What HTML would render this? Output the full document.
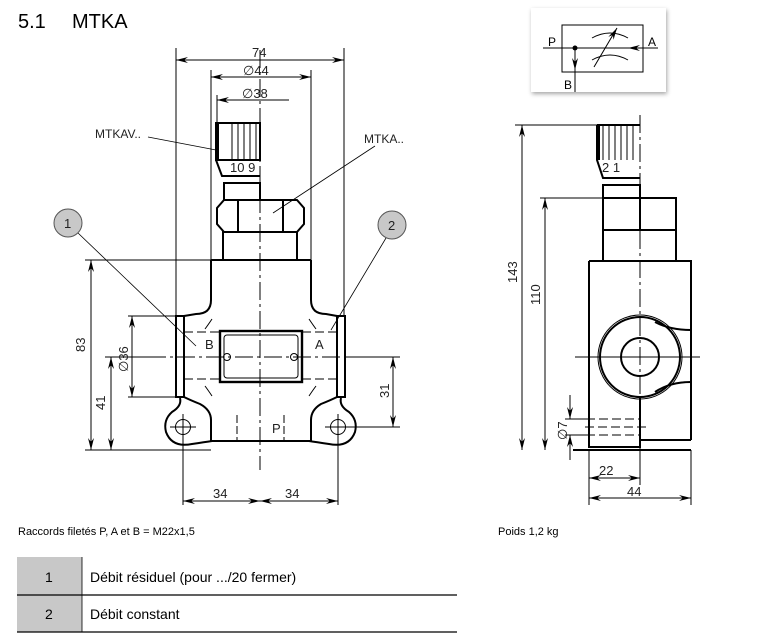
<!DOCTYPE html>
<html><head><meta charset="utf-8"><style>
body{margin:0;background:#fff;}
svg{display:block;font-family:"Liberation Sans",sans-serif;}
</style></head><body>
<svg width="757" height="641" viewBox="0 0 757 641" xmlns="http://www.w3.org/2000/svg">
<defs>
<marker id="a" viewBox="0 0 12 6" refX="12" refY="3" markerWidth="12" markerHeight="6" orient="auto-start-reverse" markerUnits="userSpaceOnUse"><path d="M0,0 L12,3 L0,6 L4,3z" fill="#000"/></marker>
<filter id="sh" x="-10%" y="-10%" width="130%" height="130%"><feDropShadow dx="1" dy="2" stdDeviation="2" flood-opacity="0.35"/></filter>
</defs>
<text x="18" y="28" font-size="20">5.1</text><text x="72" y="28" font-size="20">MTKA</text>

<!-- symbol -->
<rect x="531" y="8" width="135" height="84" fill="#fff" filter="url(#sh)"/>
<g stroke="#000" fill="none" stroke-width="1">
<rect x="562" y="25" width="81" height="47"/>
<line x1="543" y1="48" x2="658" y2="48"/>
<line x1="575" y1="48" x2="575" y2="92"/>
<path d="M592 38 Q610 28 628 38 M592 60 Q610 50 628 60"/>
<line x1="594" y1="67" x2="617" y2="28" marker-end="url(#a)"/>
<line x1="645" y1="48" x2="628" y2="48" marker-end="url(#a)"/>
<line x1="575" y1="54" x2="575" y2="70" marker-end="url(#a)"/>
</g>
<circle cx="575" cy="48" r="2.5"/>
<text x="548" y="46" font-size="12">P</text><text x="648" y="46" font-size="12">A</text><text x="564" y="89" font-size="12">B</text>

<!-- FRONT VIEW -->
<g stroke="#000" fill="none" stroke-width="2">
<rect x="216" y="123" width="44" height="37"/>
<path d="M216 160 L222 176 L260 176"/>
<rect x="224" y="183" width="36" height="17"/>
<path d="M224 200 L297 200 L304 208 L304 224 L297 232 L224 232 L217 224 L217 208 Z"/>
<line x1="238" y1="200" x2="238" y2="232"/><line x1="283" y1="200" x2="283" y2="232"/>
<rect x="223" y="232" width="74" height="28"/>
<path d="M211 260 L211 300 Q211 314 196 314 L184 316 L184 397"/>
<path d="M311 260 L311 300 Q311 314 326 314 L337 316 L337 397"/>
<line x1="211" y1="260" x2="311" y2="260"/>
<path d="M184 397 Q190 400 200 404 Q211 410 211 420 V441 H311 V420 Q311 410 321 404 Q331 400 337 397"/>
<path d="M180 398 Q182 406 172 412 Q163 420 166 432 Q172 448 192 444 Q205 442 212 441"/>
<path d="M341 398 Q339 406 349 412 Q358 420 355 432 Q349 448 329 444 Q316 442 309 441"/>
<rect x="176" y="316" width="8" height="81"/>
<rect x="337" y="316" width="8" height="81"/>
<rect x="220" y="331" width="82" height="51" stroke-width="2.4"/>
<rect x="224" y="335" width="74" height="43" rx="3" stroke-width="1"/>
<line x1="217" y1="123" x2="217" y2="160" stroke-width="4"/>
</g>
<g stroke="#000" fill="none" stroke-width="1">
<path d="M232 123 V160 M238 123 V160 M244 123 V160 M250 123 V160 M256 123 V160"/>
<circle cx="227" cy="357" r="3.5"/><circle cx="294" cy="357" r="3.5"/>
<circle cx="183" cy="427" r="7.5"/><circle cx="338" cy="427" r="7.5"/>
<path d="M212 319 Q208 325 205 329 M309 319 Q313 325 316 329 M205 386 Q208 390 212 396 M316 386 Q313 390 309 396"/>
<path d="M184 332 H220 M184 379 H220 M302 332 H337 M302 379 H337" stroke-dasharray="9 4"/>
<path d="M237 415 V441 M284 415 V441" stroke-dasharray="8 3"/>
<path d="M260 50 V470" stroke-dasharray="18 4 3 4"/>
<path d="M148 357 H345" stroke-dasharray="18 4 3 4"/>
<path d="M170 427 H196 M325 427 H400 M183 414 V505 M338 414 V505"/>
<path d="M176 48 V316 M344 48 V316 M211 70 V260 M311 70 V260 M217 95 V123"/>
<line x1="176" y1="60" x2="344" y2="60" marker-start="url(#a)" marker-end="url(#a)"/>
<line x1="211" y1="77" x2="311" y2="77" marker-start="url(#a)" marker-end="url(#a)"/>
<line x1="217" y1="100" x2="289" y2="100" marker-start="url(#a)"/>
<path d="M85 260 H211 M85 450 H211 M128 316 H176 M128 397 H176 M105 357 H148 M345 357 H400"/>
<line x1="91" y1="260" x2="91" y2="450" marker-start="url(#a)" marker-end="url(#a)"/>
<line x1="132" y1="316" x2="132" y2="397" marker-start="url(#a)" marker-end="url(#a)"/>
<line x1="111" y1="357" x2="111" y2="450" marker-start="url(#a)" marker-end="url(#a)"/>
<line x1="393" y1="357" x2="393" y2="427" marker-start="url(#a)" marker-end="url(#a)"/>
<line x1="183" y1="501" x2="260" y2="501" marker-start="url(#a)" marker-end="url(#a)"/>
<line x1="260" y1="501" x2="338" y2="501" marker-start="url(#a)" marker-end="url(#a)"/>
<path d="M148 137 L216 150 M375 146 L273 213 M78 233 L196 346 M386 238 L331 330" stroke-width="0.8"/>
</g>
<circle cx="68" cy="223" r="14" fill="#c8c8c8" stroke="#555"/>
<circle cx="392" cy="225" r="14" fill="#c8c8c8" stroke="#555"/>
<g font-size="13" fill="#222">
<text x="64" y="228">1</text><text x="388" y="230">2</text>
<text x="252" y="57">74</text><text x="243" y="75">∅44</text><text x="242" y="98">∅38</text>
<text x="95" y="138" font-size="12">MTKAV..</text><text x="364" y="143" font-size="12">MTKA..</text>
<text x="230" y="172" font-size="13">10 9</text>
<text x="205" y="349">B</text><text x="315" y="349">A</text><text x="272" y="433">P</text>
<text x="213" y="498">34</text><text x="285" y="498">34</text>
<text transform="translate(85 352) rotate(-90)">83</text>
<text transform="translate(105 410) rotate(-90)">41</text>
<text transform="translate(128 372) rotate(-90)">∅36</text>
<text transform="translate(389 398) rotate(-90)">31</text>
</g>

<!-- SIDE VIEW -->
<g stroke="#000" fill="none" stroke-width="2">
<path d="M597 125 H640 M597 125 V160 L603 178 H640"/>
<line x1="598" y1="125" x2="598" y2="160" stroke-width="4"/>
<rect x="603" y="185" width="37" height="13"/>
<rect x="603" y="198" width="73" height="32"/>
<line x1="640" y1="198" x2="640" y2="230"/>
<rect x="603" y="230" width="73" height="31"/>
<path d="M589 261 H691 V440 M589 261 V447 H640 V397"/>
<path d="M640 440 H691 M573 450 H691"/>
<circle cx="640" cy="357" r="40"/>
<circle cx="640" cy="357" r="19"/>
<path d="M655 322 Q670 330 691 330 M655 392 Q670 382 691 382"/>
</g>
<g stroke="#000" fill="none" stroke-width="1">
<path d="M603 125 V160 M609 125 V160 M615 125 V160 M621 125 V160 M627 125 V160 M633 125 V160"/>
<circle cx="640" cy="357" r="42"/>
<path d="M640 115 V440" stroke-dasharray="18 4 3 4"/>
<path d="M575 357 H700"/>
<path d="M573 419 H640 M573 435 H640 M585 427 H648" stroke-dasharray="9 4"/>
<path d="M515 125 H597 M540 198 H603 M565 419 H589 M565 435 H589 M589 450 V505 M691 450 V505 M640 440 V485"/>
<line x1="522" y1="125" x2="522" y2="450" marker-start="url(#a)" marker-end="url(#a)"/>
<line x1="545" y1="198" x2="545" y2="450" marker-start="url(#a)" marker-end="url(#a)"/>
<line x1="570" y1="395" x2="570" y2="419" marker-end="url(#a)"/>
<line x1="570" y1="460" x2="570" y2="435" marker-end="url(#a)"/>
<line x1="589" y1="478" x2="640" y2="478" marker-start="url(#a)" marker-end="url(#a)"/>
<line x1="589" y1="498" x2="691" y2="498" marker-start="url(#a)" marker-end="url(#a)"/>
</g>
<g font-size="13" fill="#222">
<text x="602" y="172" font-size="13">2 1</text>
<text transform="translate(517 283) rotate(-90)">143</text>
<text transform="translate(540 305) rotate(-90)">110</text>
<text transform="translate(567 440) rotate(-90)">∅7</text>
<text x="599" y="475">22</text><text x="627" y="496">44</text>
</g>

<text x="18" y="535" font-size="11">Raccords filetés P, A et B = M22x1,5</text>
<text x="498" y="535" font-size="11">Poids 1,2 kg</text>

<rect x="17" y="557" width="65" height="75" fill="#c8c8c8"/>
<path d="M17 595 H457 M17 632 H457" stroke="#000" stroke-width="1.2"/>
<path d="M82 557 V632" stroke="#000" stroke-width="0.8"/>
<g font-size="14"><text x="45" y="582">1</text><text x="45" y="619">2</text>
<text x="90" y="582">Débit résiduel (pour .../20 fermer)</text>
<text x="90" y="619">Débit constant</text></g>
</svg>
</body></html>
